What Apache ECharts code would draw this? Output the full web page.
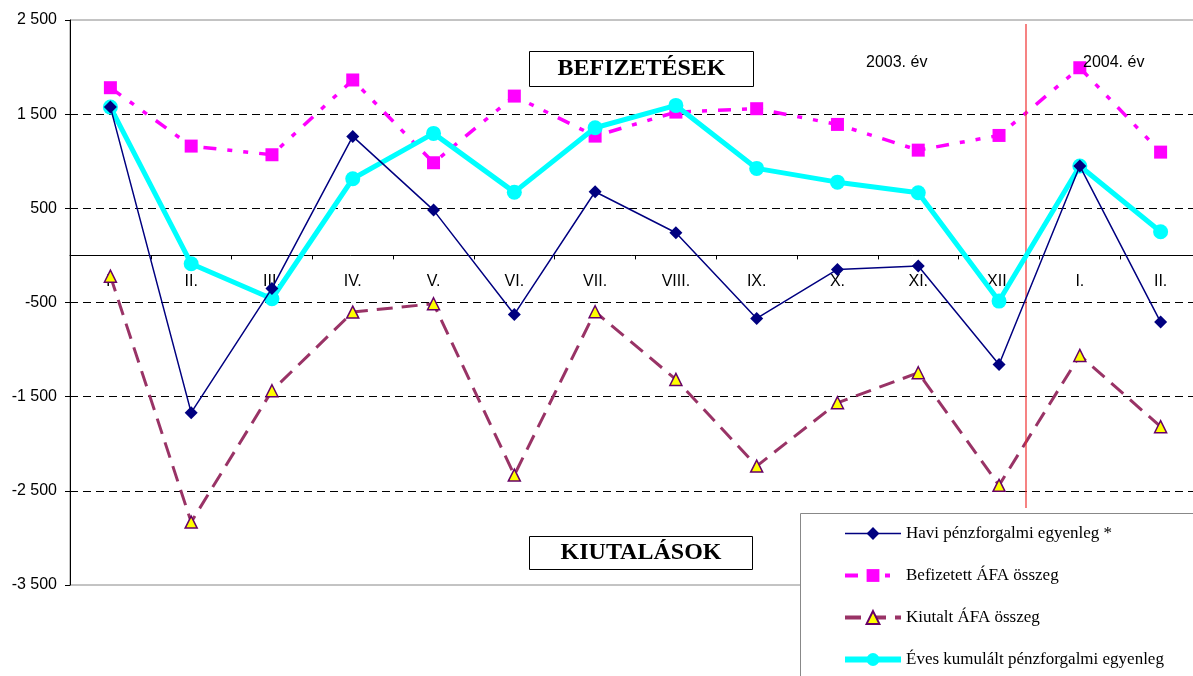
<!DOCTYPE html>
<html>
<head>
<meta charset="utf-8">
<script src="https://cdn.jsdelivr.net/npm/echarts@6/dist/echarts.min.js"></script>
<style>
  html, body { margin: 0; padding: 0; background: #fff; }
  #chart { width: 1193px; height: 676px; }
</style>
</head>
<body>
<div id="chart"></div>
<script>
const months = ['I.', 'II.', 'III.', 'IV.', 'V.', 'VI.', 'VII.', 'VIII.', 'IX.', 'X.', 'XI.', 'XII.', 'I.', 'II.']
const havi = [1575, -1670, -350, 1264, 481, -627, 676, 241, -669, -149, -113, -1158, 949, -708]
const befizetett = [1781, 1161, 1069, 1863, 984, 1692, 1267, 1522, 1558, 1391, 1118, 1274, 1993, 1097]
const kiutalt = [-220, -2832, -1437, -602, -513, -2333, -598, -1317, -2237, -1565, -1246, -2442, -1062, -1819]
const kumulalt = [1575, -88, -460, 814, 1296, 672, 1356, 1593, 924, 778, 666, -485, 949, 252]
const seriesNames = ['Havi pénzforgalmi egyenleg *', 'Befizetett ÁFA összeg', 'Kiutalt ÁFA összeg', 'Éves kumulált pénzforgalmi egyenleg']

// szóközös ezres tagolás (2 500)
const fmt = (v) => {
  const s = String(Math.abs(v)).replace(/\B(?=(\d{3})+(?!\d))/g, ' ')
  return (v < 0 ? '-' : '') + s
}

const chart = echarts.init(document.getElementById('chart'))

const boxLabel = (text, x, y, w, h) => ({
  type: 'group',
  left: x,
  top: y,
  z: 5,
  children: [
    { type: 'rect', shape: { x: 0, y: 0, width: w, height: h }, style: { fill: '#fff', stroke: '#000', lineWidth: 1 } },
    { type: 'text', x: w / 2, y: h / 2, style: { text: text, fill: '#000', font: 'bold 24px "Liberation Serif"', align: 'center', verticalAlign: 'middle' } }
  ]
})

// grid: 70..1201 vízszintesen (jobb széle kilóg), 20..585 függőlegesen
const gridTop = 20, gridHeight = 565
const zeroOffset = -(gridHeight * 3500 / 6000)

chart.setOption({
  animation: false,
  grid: { left: 70, top: gridTop, width: 1131, height: gridHeight, outerBoundsMode: 'none', show: true, borderColor: '#888', borderWidth: 1 },
  xAxis: {
    type: 'category',
    data: months,
    boundaryGap: true,
    offset: zeroOffset,
    axisLine: { onZero: false, lineStyle: { color: '#000', width: 1 } },
    axisTick: { show: true, length: 4, lineStyle: { color: '#000' } },
    axisLabel: { color: '#000', fontFamily: 'Liberation Sans', fontSize: 16, margin: 18 }
  },
  yAxis: {
    type: 'value',
    min: -3500,
    max: 2500,
    interval: 1000,
    axisLine: { show: true, lineStyle: { color: '#000', width: 1 } },
    axisTick: { show: true, length: 5, lineStyle: { color: '#000' } },
    axisLabel: { color: '#000', fontFamily: 'Liberation Sans', fontSize: 16, margin: 13, formatter: fmt },
    splitLine: { show: true, showMinLine: false, showMaxLine: false, lineStyle: { color: '#000', type: [8, 5], width: 1 } }
  },
  legend: {
    orient: 'vertical',
    left: 842,
    top: 525,
    padding: 0,
    itemWidth: 56,
    itemHeight: 16,
    itemGap: 25,
    z: 6,
    data: [
      { name: seriesNames[0], lineStyle: { width: 1.5 } },
      { name: seriesNames[1], lineStyle: { width: 4 } },
      { name: seriesNames[2], lineStyle: { width: 4 } },
      { name: seriesNames[3], lineStyle: { width: 6 } }
    ],
    textStyle: { color: '#000', fontFamily: 'Liberation Serif', fontSize: 17 }
  },
  graphic: [
    { type: 'rect', left: 800, top: 513, z: 4, shape: { width: 420, height: 200 }, style: { fill: '#fff', stroke: '#888', lineWidth: 1 } },
    { type: 'line', z: 3, shape: { x1: 1026, y1: 24, x2: 1026, y2: 508 }, style: { stroke: '#f03030', lineWidth: 1.2 } },
    { type: 'text', left: 866, top: 55, z: 3, style: { text: '2003. év', fill: '#000', font: '16px "Liberation Sans"' } },
    { type: 'text', left: 1083, top: 55, z: 3, style: { text: '2004. év', fill: '#000', font: '16px "Liberation Sans"' } },
    boxLabel('BEFIZETÉSEK', 529, 51, 224, 35),
    boxLabel('KIUTALÁSOK', 529, 536, 223, 33)
  ],
  series: [
    {
      name: seriesNames[0],
      type: 'line',
      data: havi,
      symbol: 'diamond',
      symbolSize: 13,
      z: 4,
      lineStyle: { color: '#000080', width: 1.5 },
      itemStyle: { color: '#000080' }
    },
    {
      name: seriesNames[1],
      type: 'line',
      data: befizetett,
      symbol: 'rect',
      symbolSize: 13,
      z: 2,
      lineStyle: { color: '#ff00ff', width: 3.5, type: [13, 11, 5, 11, 5, 11] },
      itemStyle: { color: '#ff00ff' }
    },
    {
      name: seriesNames[2],
      type: 'line',
      data: kiutalt,
      symbol: 'triangle',
      symbolSize: 12,
      z: 2,
      lineStyle: { color: '#993366', width: 3, type: [16, 9] },
      itemStyle: { color: '#ffff00', borderColor: '#660066', borderWidth: 1.5 }
    },
    {
      name: seriesNames[3],
      type: 'line',
      data: kumulalt,
      symbol: 'circle',
      symbolSize: 15,
      z: 3,
      lineStyle: { color: '#00ffff', width: 5 },
      itemStyle: { color: '#00ffff' }
    }
  ]
})
</script>
</body>
</html>
